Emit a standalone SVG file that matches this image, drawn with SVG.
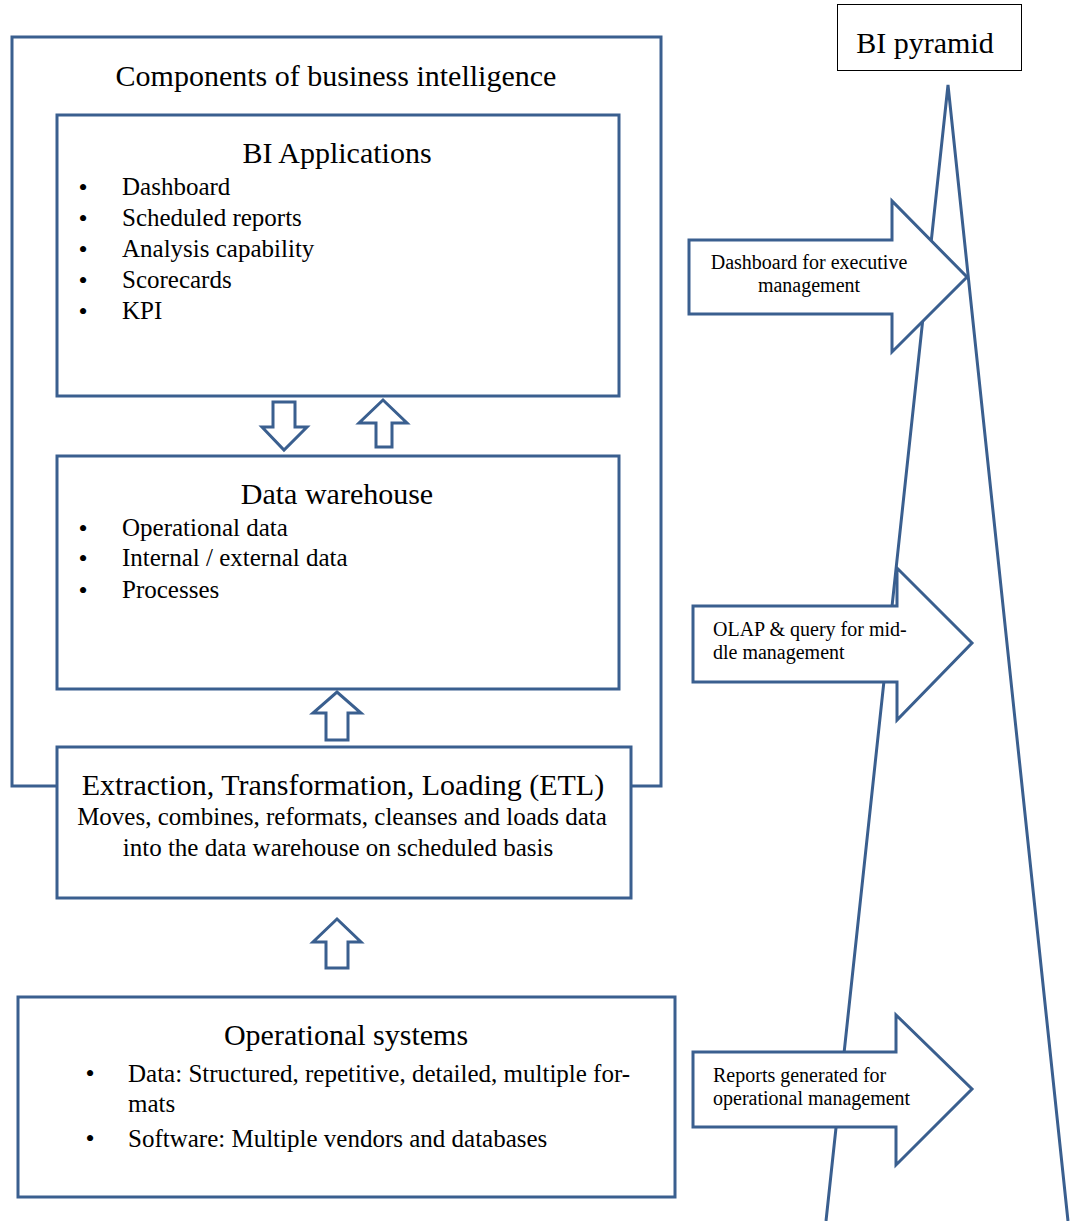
<svg xmlns="http://www.w3.org/2000/svg" width="1071" height="1221" viewBox="0 0 1071 1221">
<style>
.box{fill:#fff;stroke:#3A5F8F;stroke-width:3}
.ln{fill:none;stroke:#3A5F8F;stroke-width:3}
.arr{fill:#fff;stroke:#3A5F8F;stroke-width:3;stroke-linejoin:miter}
text{font-family:"Liberation Serif","Times New Roman",serif;fill:#000}
.t{font-size:30px}
.b{font-size:25px}
.d{font-size:26px;text-anchor:middle}
.s{font-size:20px}
</style>
<rect width="1071" height="1221" fill="#fff"/>
<g id="pyramid">
<polyline class="ln" points="826,1221 948,85 1068,1221"/>
</g>
<g id="bi-pyramid-label">
<rect x="837.5" y="4.5" width="184" height="66" fill="#fff" stroke="#000" stroke-width="1"/>
<text class="t" x="925" y="53" text-anchor="middle">BI pyramid</text>
</g>
<g id="components">
<polyline class="ln" points="57,786 12,786 12,37 661,37 661,786 631,786"/>
<text class="t" x="336" y="86" text-anchor="middle">Components of business intelligence</text>
</g>
<g id="bi-applications">
<rect class="box" x="57" y="115" width="562" height="281"/>
<text class="t" x="337" y="163" text-anchor="middle">BI Applications</text>
<text class="d" x="83" y="196">•</text><text class="b" x="122" y="195">Dashboard</text>
<text class="d" x="83" y="227">•</text><text class="b" x="122" y="226">Scheduled reports</text>
<text class="d" x="83" y="258">•</text><text class="b" x="122" y="257">Analysis capability</text>
<text class="d" x="83" y="289">•</text><text class="b" x="122" y="288">Scorecards</text>
<text class="d" x="83" y="320">•</text><text class="b" x="122" y="319">KPI</text>
</g>
<g id="data-warehouse">
<rect class="box" x="57" y="456" width="562" height="233"/>
<text class="t" x="337" y="504" text-anchor="middle">Data warehouse</text>
<text class="d" x="83" y="537">•</text><text class="b" x="122" y="536">Operational data</text>
<text class="d" x="83" y="567">•</text><text class="b" x="122" y="566">Internal / external data</text>
<text class="d" x="83" y="599">•</text><text class="b" x="122" y="598">Processes</text>
</g>
<g id="etl">
<rect class="box" x="57" y="747" width="574" height="151"/>
<text class="t" x="343" y="795" text-anchor="middle">Extraction, Transformation, Loading (ETL)</text>
<text class="b" x="342" y="825" text-anchor="middle">Moves, combines, reformats, cleanses and loads data</text>
<text class="b" x="338" y="856" text-anchor="middle">into the data warehouse on scheduled basis</text>
</g>
<g id="operational-systems">
<rect class="box" x="18" y="997" width="657" height="200"/>
<text class="t" x="346" y="1045" text-anchor="middle">Operational systems</text>
<text class="d" x="90" y="1082">•</text><text class="b" x="128" y="1082">Data: Structured, repetitive, detailed, multiple for-</text>
<text class="b" x="128" y="1112">mats</text>
<text class="d" x="90" y="1147">•</text><text class="b" x="128" y="1147">Software: Multiple vendors and databases</text>
</g>
<g id="connectors">
<polygon class="arr" points="273,402 295,402 295,427 307,427 284,450 262,427 273,427"/>
<polygon class="arr" points="376,447 392,447 392,423 407,423 383,400 359,423 376,423"/>
<polygon class="arr" points="326,740 348,740 348,713 361,713 337,692 313,713 326,713"/>
<polygon class="arr" points="326,968 348,968 348,942 361,942 337,919 313,942 326,942"/>
</g>
<g id="arrow-executive">
<polygon class="arr" points="689,240 892,240 892,201 967,277 892,352 892,314 689,314"/>
<text class="s" x="809" y="269" text-anchor="middle">Dashboard for executive</text>
<text class="s" x="809" y="292" text-anchor="middle">management</text>
</g>
<g id="arrow-middle">
<polygon class="arr" points="693,606 897,606 897,568 972,643 897,720 897,682 693,682"/>
<text class="s" x="713" y="636">OLAP &amp; query for mid-</text>
<text class="s" x="713" y="659">dle management</text>
</g>
<g id="arrow-operational">
<polygon class="arr" points="693,1052 896,1052 896,1015 972,1089 896,1165 896,1127 693,1127"/>
<text class="s" x="713" y="1082">Reports generated for</text>
<text class="s" x="713" y="1105">operational management</text>
</g>
</svg>
